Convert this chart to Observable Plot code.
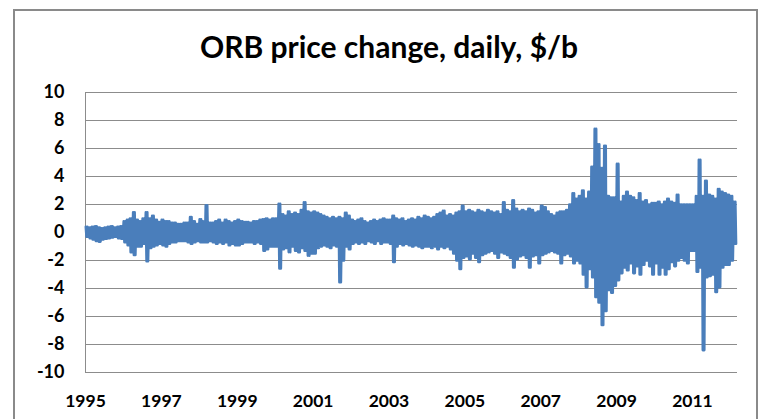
<!DOCTYPE html>
<html><head><meta charset="utf-8">
<script src="https://cdn.jsdelivr.net/npm/d3@7"></script>
<script src="https://cdn.jsdelivr.net/npm/@observablehq/plot@0.6"></script>
<style>
body{margin:0;background:#fff;overflow:hidden;width:763px;height:419px}
#frame{position:absolute;left:13px;top:9px;width:745px;height:430px;border:2px solid #8a8a8a;box-sizing:border-box}
#title{position:absolute;left:0;width:763px;padding-left:15px;box-sizing:border-box;top:26px;text-align:center;font:bold 30px Lato;color:#000;line-height:40px}
#chart{position:absolute;left:0;top:0}
</style></head><body>
<div id="frame"></div>
<div id="title">ORB price change, daily, $/b</div>
<div id="chart"></div>
<script>
// Years covered
const years = [1995,1996,1997,1998,1999,2000,2001,2002,2003,2004,2005,2006,2007,2008,2009,2010,2011,2012];
// Monthly upper extremes of daily change ($/b)
const highs = [
  [0.4,0.35,0.4,0.45,0.35,0.3,0.35,0.4,0.45,0.35,0.4,0.45],
  [0.8,0.9,1.0,1.45,0.9,0.8,1.0,1.45,1.0,1.2,0.9,0.75],
  [0.9,0.8,0.8,0.7,0.7,0.6,0.6,0.7,0.7,1.1,0.8,0.6],
  [0.95,0.8,1.95,0.7,0.7,0.8,0.9,0.7,0.9,0.8,0.7,0.8],
  [0.9,0.8,0.75,0.75,0.7,0.8,0.8,0.9,0.95,1.0,0.9,1.0],
  [1.0,2.05,1.3,1.2,1.5,1.3,1.4,1.3,1.6,2.15,1.5,1.4],
  [1.5,1.4,1.3,1.2,1.1,1.0,1.1,1.0,1.1,1.0,1.4,1.2],
  [0.9,0.8,0.9,1.0,0.8,0.7,0.8,0.9,0.8,0.9,1.0,0.9],
  [0.9,1.2,1.0,0.9,1.0,0.8,0.9,1.0,0.9,1.1,1.0,1.2],
  [1.1,1.0,1.1,1.3,1.4,1.55,1.2,1.3,1.2,1.4,1.5,1.9],
  [1.5,1.6,1.5,1.4,1.6,1.5,1.4,1.6,1.5,1.4,1.5,1.3],
  [2.15,1.6,1.5,2.3,1.7,1.5,1.6,1.5,1.7,1.6,1.4,1.5],
  [1.9,1.8,1.5,1.3,1.2,1.4,1.5,1.5,1.6,2.0,2.8,2.4],
  [2.6,3.0,2.4,2.9,4.7,7.4,6.3,4.6,6.2,2.6,2.5,2.5],
  [4.9,2.2,2.6,2.9,2.6,2.5,2.3,2.8,2.2,2.3,2.0,2.1],
  [2.1,2.2,2.0,2.2,2.4,2.2,2.1,2.7,2.0,2.0,2.0,2.0],
  [2.0,2.6,5.2,2.6,3.7,2.7,2.6,2.4,3.1,2.9,2.8,2.7],
  [2.6,2.2]
];
// Monthly lower extremes of daily change ($/b)
const lows = [
  [-0.3,-0.4,-0.5,-0.6,-0.65,-0.5,-0.45,-0.4,-0.35,-0.3,-0.4,-0.45],
  [-0.7,-0.9,-1.4,-1.6,-1.0,-1.0,-0.8,-2.05,-1.1,-1.0,-0.9,-0.8],
  [-0.9,-1.0,-0.8,-0.7,-0.7,-0.6,-0.6,-0.6,-0.7,-0.8,-0.7,-0.6],
  [-0.7,-0.7,-0.7,-0.6,-0.7,-0.8,-0.7,-0.8,-0.7,-0.9,-0.8,-0.9],
  [-0.9,-0.8,-0.7,-0.7,-0.7,-0.8,-0.7,-0.8,-1.3,-1.2,-1.0,-1.0],
  [-1.0,-2.57,-1.2,-1.1,-1.4,-1.0,-1.3,-1.4,-1.1,-1.3,-1.65,-1.5],
  [-1.5,-1.1,-1.0,-0.9,-1.0,-1.1,-0.9,-1.0,-3.55,-2.0,-1.0,-1.2],
  [-0.8,-0.7,-0.8,-0.7,-0.8,-0.6,-0.7,-0.8,-0.6,-0.8,-0.7,-0.7],
  [-0.8,-2.1,-1.0,-0.8,-0.9,-0.8,-0.9,-1.0,-0.9,-1.0,-1.1,-1.0],
  [-1.0,-1.1,-1.0,-1.2,-1.0,-1.1,-1.0,-1.2,-1.5,-2.0,-2.6,-1.8],
  [-1.7,-1.9,-1.5,-1.8,-2.1,-1.6,-1.5,-1.4,-1.3,-1.5,-1.8,-1.4],
  [-1.5,-1.6,-1.8,-2.5,-1.9,-1.7,-1.6,-1.8,-2.5,-1.7,-1.6,-2.2],
  [-1.6,-1.5,-1.4,-1.3,-1.4,-1.5,-2.2,-1.6,-1.5,-1.7,-2.2,-2.0],
  [-2.2,-3.0,-3.9,-2.6,-3.2,-4.6,-5.0,-6.6,-5.6,-4.1,-4.3,-3.8],
  [-3.4,-2.9,-2.5,-2.7,-2.2,-2.9,-2.4,-3.0,-2.3,-2.0,-2.4,-3.0],
  [-2.2,-3.0,-2.5,-3.0,-2.6,-2.1,-2.4,-2.0,-1.8,-2.0,-2.2,-1.3],
  [-1.3,-2.8,-2.5,-8.4,-3.2,-3.1,-3.0,-4.25,-3.9,-2.5,-2.3,-2.3],
  [-2.0,-0.8]
];
// Tick labels
const yTicks = [-10,-8,-6,-4,-2,0,2,4,6,8,10];
const xTickYears = [1995,1997,1999,2001,2003,2005,2007,2009,2011];

// Each month's daily swings drawn as an up/down trace between its read extremes
const series = [];
years.forEach((yr, i) => {
  highs[i].forEach((h, m) => {
    const l = lows[i][m];
    series.push({date: new Date(Date.UTC(yr, m, 4)), value: h});
    series.push({date: new Date(Date.UTC(yr, m, 11)), value: l});
    series.push({date: new Date(Date.UTC(yr, m, 18)), value: h});
    series.push({date: new Date(Date.UTC(yr, m, 25)), value: l});
  });
});
const xTickDates = xTickYears.map(y => new Date(Date.UTC(y, 0, 1)));
const xStart = new Date(Date.UTC(1995, 0, 1));
const xEnd = new Date(Date.UTC(2012, 2, 10));

const chart = Plot.plot({
  width: 763, height: 419,
  marginLeft: 85, marginRight: 26, marginTop: 92, marginBottom: 47,
  style: {fontFamily: "Lato", fontWeight: "bold", fontSize: "18px", color: "#000", background: "transparent", overflow: "visible"},
  x: {type: "utc", domain: [xStart, xEnd]},
  y: {domain: [-10, 10]},
  marks: [
    Plot.ruleY(yTicks, {stroke: "#8c8c8c", strokeWidth: 1}),
    Plot.ruleX([xStart], {stroke: "#8c8c8c", strokeWidth: 1}),
    Plot.line(series, {x: "date", y: "value", stroke: "#4a7ebb", strokeWidth: 2.6, strokeLinejoin: "round", curve: "linear"}),
    Plot.axisY(yTicks, {tickSize: 0, tickPadding: 21, label: null, tickFormat: d => String(d), fontSize: 18, fontWeight: "bold"}),
    Plot.axisX(xTickDates, {tickSize: 0, tickPadding: 22, label: null, tickFormat: d3.utcFormat("%Y"), fontSize: 17.5, fontWeight: "bold"})
  ]
});
document.getElementById("chart").appendChild(chart);
</script>
</body></html>
